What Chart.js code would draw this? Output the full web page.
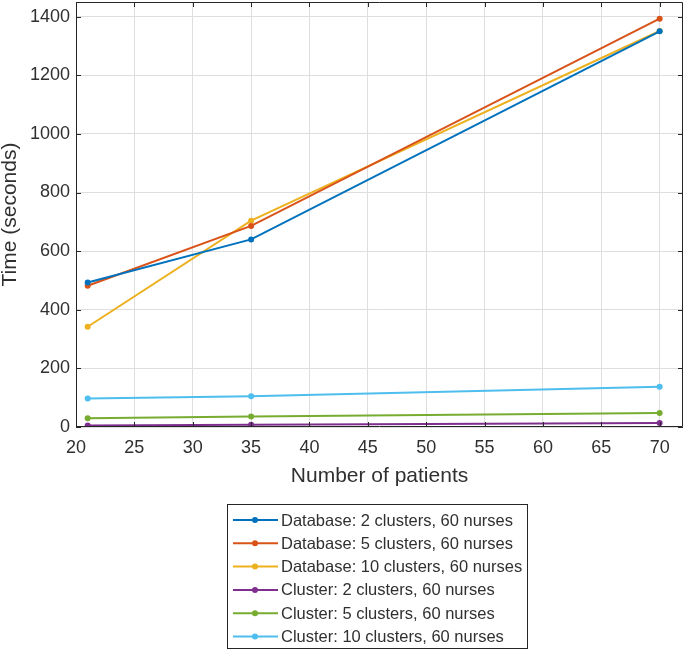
<!DOCTYPE html>
<html><head><meta charset="utf-8">
<script src="https://cdn.jsdelivr.net/npm/chart.js@4.4.1/dist/chart.umd.min.js"></script>
<style>html,body{margin:0;padding:0;background:#fff}#wrap{width:685px;height:651px}</style>
</head><body><div id="wrap"><canvas id="c" width="685" height="651"></canvas></div>
<script>
const patients = [21, 35, 70];
const seriesLabels = [
  'Database: 2 clusters, 60 nurses',
  'Database: 5 clusters, 60 nurses',
  'Database: 10 clusters, 60 nurses',
  'Cluster: 2 clusters, 60 nurses',
  'Cluster: 5 clusters, 60 nurses',
  'Cluster: 10 clusters, 60 nurses'
];
const db2 = [493, 640, 1350];
const db5 = [482, 686, 1393];
const db10 = [342, 704, 1351];
const cl2 = [5, 8, 14];
const cl5 = [30, 36, 48];
const cl10 = [97, 105, 137];
const xTickValues = [20, 25, 30, 35, 40, 45, 50, 55, 60, 65, 70];
const yTickValues = [0, 200, 400, 600, 800, 1000, 1200, 1400];
const seriesColors = ['#0072BD', '#D95319', '#EDB120', '#7E2F8E', '#77AC30', '#4DBEEE'];
const seriesValues = [db2, db5, db10, cl2, cl5, cl10];

const FONT = "'Liberation Sans', Arial, Helvetica, sans-serif";
const TXT = '#303030';

const datasets = seriesValues.map((vals, i) => ({
  label: seriesLabels[i],
  data: patients.map((p, j) => ({x: p, y: vals[j]})),
  borderColor: seriesColors[i],
  backgroundColor: seriesColors[i],
  pointBackgroundColor: seriesColors[i],
  pointBorderColor: seriesColors[i],
  borderWidth: 2,
  pointRadius: 3,
  pointBorderWidth: 0,
  tension: 0
}));

const axesBox = {
  id: 'axesBox',
  afterDatasetsDraw(chart) {
    const {ctx, chartArea: a, scales: {x, y}} = chart;
    ctx.save();
    ctx.strokeStyle = '#262626';
    ctx.lineWidth = 1;
    ctx.beginPath();
    ctx.rect(Math.round(a.left) + 0.5, Math.round(a.top) + 0.5, Math.round(a.right - a.left) - 1, Math.round(a.bottom - a.top) - 1);
    ctx.stroke();
    const tl = 5;
    ctx.beginPath();
    xTickValues.forEach(v => {
      const px = Math.round(x.getPixelForValue(v)) + 0.5;
      ctx.moveTo(px, a.bottom); ctx.lineTo(px, a.bottom - tl);
      ctx.moveTo(px, a.top); ctx.lineTo(px, a.top + tl);
    });
    yTickValues.forEach(v => {
      const py = Math.round(y.getPixelForValue(v)) + 0.5;
      ctx.moveTo(a.left, py); ctx.lineTo(a.left + tl, py);
      ctx.moveTo(a.right, py); ctx.lineTo(a.right - tl, py);
    });
    ctx.stroke();
    ctx.restore();
  }
};

const legendBox = {
  id: 'legendBox',
  afterDraw(chart) {
    const ctx = chart.ctx;
    const x0 = 227, y0 = 504, w = 300, h = 144, rowH = 23.3;
    ctx.save();
    ctx.fillStyle = '#fff';
    ctx.fillRect(x0, y0, w, h);
    ctx.strokeStyle = '#262626';
    ctx.lineWidth = 1;
    ctx.strokeRect(x0 + 0.5, y0 + 0.5, w, h);
    ctx.font = '16.5px ' + FONT;
    ctx.textBaseline = 'middle';
    ctx.textAlign = 'left';
    chart.data.datasets.forEach((ds, i) => {
      const cy = y0 + 16 + i * rowH;
      ctx.strokeStyle = ds.borderColor;
      ctx.lineWidth = 2;
      ctx.beginPath();
      ctx.moveTo(x0 + 6, cy); ctx.lineTo(x0 + 51, cy);
      ctx.stroke();
      ctx.fillStyle = ds.borderColor;
      ctx.beginPath();
      ctx.arc(x0 + 28, cy, 3, 0, Math.PI * 2);
      ctx.fill();
      ctx.fillStyle = TXT;
      ctx.fillText(ds.label, x0 + 54, cy + 1);
    });
    ctx.restore();
  }
};

new Chart(document.getElementById('c'), {
  type: 'line',
  data: {datasets},
  options: {
    responsive: false,
    animation: false,
    devicePixelRatio: 1,
    layout: {autoPadding: false, padding: {left: 0, top: 2, right: 2, bottom: 0}},
    plugins: {legend: {display: false}, tooltip: {enabled: false}},
    scales: {
      x: {
        type: 'linear',
        min: 20, max: 72,
        afterBuildTicks: s => { s.ticks = xTickValues.map(v => ({value: v})); },
        afterFit: s => { s.height = 224; s.paddingLeft = 0; s.paddingRight = 0; s.paddingTop = 0; s.paddingBottom = 0; },
        grid: {color: '#dedede', lineWidth: 1, drawTicks: false},
        border: {display: false},
        ticks: {font: {family: FONT, size: 18}, color: TXT, padding: 10, maxRotation: 0, autoSkip: false,
                callback: v => String(v)},
        title: {display: true, text: 'Number of patients', font: {family: FONT, size: 21, lineHeight: 1}, color: TXT, padding: {top: 0, bottom: 164.5}}
      },
      y: {
        type: 'linear',
        min: 0, max: 1450,
        afterBuildTicks: s => { s.ticks = yTickValues.map(v => ({value: v})); },
        afterFit: s => { s.width = 76; s.paddingTop = 0; s.paddingBottom = 0; s.paddingLeft = 0; s.paddingRight = 0; },
        grid: {color: '#dedede', lineWidth: 1, drawTicks: false},
        border: {display: false},
        ticks: {font: {family: FONT, size: 18}, color: TXT, padding: 6, autoSkip: false,
                callback: v => String(v)},
        title: {display: true, text: 'Time (seconds)', font: {family: FONT, size: 21, lineHeight: 1}, color: TXT, padding: {top: 0, bottom: 0}}
      }
    }
  },
  plugins: [axesBox, legendBox]
});
</script>
</body></html>
